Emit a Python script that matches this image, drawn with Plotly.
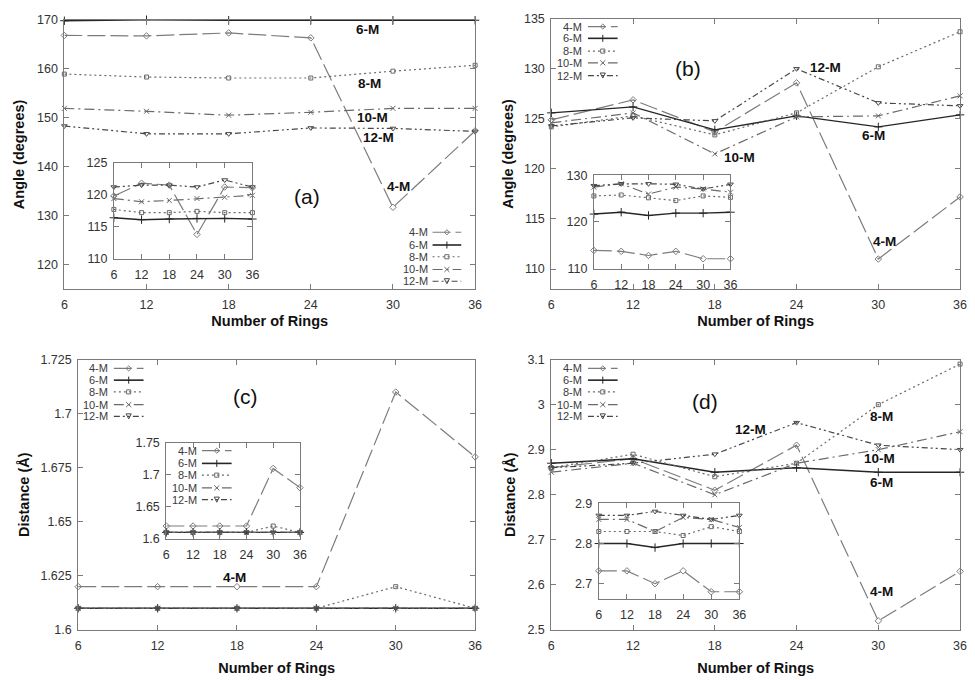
import plotly.graph_objects as go

# ---------------- data ----------------
rings = [6, 12, 18, 24, 30, 36]
series_names = ["4-M", "6-M", "8-M", "10-M", "12-M"]

# (a) angle, main
a_4M = [166.8, 166.7, 167.3, 166.3, 131.7, 147.3]
a_6M = [169.8, 170.0, 169.9, 169.9, 169.9, 169.9]
a_8M = [158.9, 158.3, 158.1, 158.1, 159.5, 160.7]
a_10M = [151.9, 151.3, 150.5, 151.1, 151.9, 151.9]
a_12M = [148.3, 146.7, 146.7, 147.9, 147.8, 147.2]
# (a) inset
ai_4M = [119.8, 121.8, 121.5, 113.8, 121.2, 121.1]
ai_6M = [116.4, 116.1, 116.2, 116.3, 116.3, 116.2]
ai_8M = [117.7, 117.2, 117.2, 117.4, 117.2, 117.2]
ai_10M = [119.4, 118.9, 119.1, 119.4, 119.6, 119.9]
ai_12M = [121.2, 121.5, 121.5, 121.2, 122.3, 121.2]

# (b) angle, main
b_4M = [124.9, 126.9, 123.7, 128.6, 111.0, 117.2]
b_6M = [125.6, 126.2, 123.9, 125.3, 124.2, 125.4]
b_8M = [124.2, 125.3, 123.4, 125.6, 130.2, 133.7]
b_10M = [124.6, 125.6, 121.5, 125.2, 125.3, 127.3]
b_12M = [124.3, 125.1, 124.8, 130.0, 126.6, 126.3]
# (b) inset
bi_4M = [113.9, 113.7, 112.8, 113.7, 112.1, 112.1]
bi_6M = [121.7, 122.1, 121.4, 121.9, 121.9, 122.1]
bi_8M = [125.6, 125.8, 125.2, 124.6, 125.6, 125.3]
bi_10M = [127.5, 128.2, 126.0, 127.5, 127.1, 126.4]
bi_12M = [127.8, 128.2, 128.2, 128.1, 127.1, 128.1]

# (c) distance, main
c_4M = [1.62, 1.62, 1.62, 1.62, 1.71, 1.68]
c_6M = [1.61, 1.61, 1.61, 1.61, 1.61, 1.61]
c_8M = [1.61, 1.61, 1.61, 1.61, 1.62, 1.61]
c_10M = [1.61, 1.61, 1.61, 1.61, 1.61, 1.61]
c_12M = [1.61, 1.61, 1.61, 1.61, 1.61, 1.61]
# (c) inset
ci_4M = [1.62, 1.62, 1.62, 1.62, 1.71, 1.68]
ci_6M = [1.61, 1.61, 1.61, 1.61, 1.61, 1.61]
ci_8M = [1.61, 1.61, 1.61, 1.61, 1.62, 1.61]
ci_10M = [1.61, 1.61, 1.61, 1.61, 1.61, 1.61]
ci_12M = [1.61, 1.61, 1.61, 1.61, 1.61, 1.61]

# (d) distance, main
d_4M = [2.86, 2.88, 2.81, 2.91, 2.52, 2.63]
d_6M = [2.87, 2.88, 2.85, 2.86, 2.85, 2.85]
d_8M = [2.86, 2.89, 2.84, 2.87, 3.00, 3.09]
d_10M = [2.85, 2.87, 2.80, 2.87, 2.90, 2.94]
d_12M = [2.86, 2.87, 2.89, 2.96, 2.91, 2.90]
# (d) inset
di_4M = [2.732, 2.732, 2.70, 2.732, 2.68, 2.68]
di_6M = [2.80, 2.80, 2.79, 2.80, 2.80, 2.80]
di_8M = [2.83, 2.83, 2.83, 2.82, 2.842, 2.83]
di_10M = [2.86, 2.86, 2.83, 2.865, 2.86, 2.84]
di_12M = [2.87, 2.87, 2.88, 2.87, 2.86, 2.87]

# tick labels
x_ticks = [6, 12, 18, 24, 30, 36]
a_yticks = [120, 130, 140, 150, 160, 170]
b_yticks = [110, 115, 120, 125, 130, 135]
c_yticks = [1.6, 1.625, 1.65, 1.675, 1.7, 1.725]
c_yticklabels = ["1.6", "1.625", "1.65", "1.675", "1.7", "1.725"]
d_yticks = [2.5, 2.6, 2.7, 2.8, 2.9, 3.0, 3.1]
d_yticklabels = ["2.5", "2.6", "2.7", "2.8", "2.9", "3", "3.1"]
ai_yticks = [110, 115, 120, 125]
bi_yticks = [110, 120, 130]
ci_yticks = [1.6, 1.65, 1.7, 1.75]
ci_yticklabels = ["1.6", "1.65", "1.7", "1.75"]
di_yticks = [2.7, 2.8, 2.9]

# ---------------- layout helpers ----------------
W, H = 975, 680
FONT = "Liberation Sans, Arial, sans-serif"


def fx(p):
    return p / W


def fy(p):
    return 1 - p / H


STYLE = {
    "4-M": dict(color="#7c7c7c", dash="18px,5px", symbol="diamond-open", size=5),
    "6-M": dict(color="#262626", dash="solid", symbol="cross-thin", size=6),
    "8-M": dict(color="#6a6a6a", dash="2px,3px", symbol="square-open", size=4),
    "10-M": dict(color="#6a6a6a", dash="10px,4px,2px,4px", symbol="x-thin", size=5),
    "12-M": dict(color="#474747", dash="6px,3px,2px,3px,2px,3px", symbol="triangle-down-open", size=5),
}

panels = [
    ("", [a_4M, a_6M, a_8M, a_10M, a_12M], (62, 477, 13, 288), [115, 170], a_yticks, None),
    ("2", [b_4M, b_6M, b_8M, b_10M, b_12M], (554, 967, 12, 288), [108, 135], b_yticks, None),
    ("3", [c_4M, c_6M, c_8M, c_10M, c_12M], (76, 477, 360, 636), [1.6, 1.725], c_yticks, c_yticklabels),
    ("4", [d_4M, d_6M, d_8M, d_10M, d_12M], (554, 967, 360, 636), [2.5, 3.1], d_yticks, d_yticklabels),
    ("5", [ai_4M, ai_6M, ai_8M, ai_10M, ai_12M], (112, 252, 159, 257), [110, 125], ai_yticks, None),
    ("6", [bi_4M, bi_6M, bi_8M, bi_10M, bi_12M], (597, 735, 172, 267), [110, 130], bi_yticks, None),
    ("7", [ci_4M, ci_6M, ci_8M, ci_10M, ci_12M], (165, 300, 445, 543), [1.6, 1.75], ci_yticks, ci_yticklabels),
    ("8", [di_4M, di_6M, di_8M, di_10M, di_12M], (602, 744, 506, 604), [2.663, 2.902], di_yticks, None),
]

fig = go.Figure()
layout = dict(
    width=W, height=H, margin=dict(l=0, r=0, t=0, b=0),
    paper_bgcolor="white", plot_bgcolor="rgba(0,0,0,0)",
    showlegend=False, font=dict(family=FONT, color="#333333"),
)

axis_common = dict(
    showline=True, mirror="ticks", linecolor="#7a7a7a", linewidth=1,
    ticks="inside", ticklen=5, tickcolor="#7a7a7a", showgrid=False,
    zeroline=False, tickfont=dict(family=FONT, size=12.5, color="#333333"),
)

for suf, vals, box, yr, yt, ytl in panels:
    x0, x1, y0, y1 = box
    xa = dict(axis_common, domain=[fx(x0), fx(x1)], range=[6, 36],
              tickvals=x_ticks, anchor="y" + suf, ticklabelstandoff=4)
    ya = dict(axis_common, domain=[fy(y1), fy(y0)], range=yr,
              tickvals=yt, anchor="x" + suf, ticklabelstandoff=3)
    if ytl is not None:
        ya["ticktext"] = ytl
    layout["xaxis" + suf] = xa
    layout["yaxis" + suf] = ya
    for name, v in zip(series_names, vals):
        s = STYLE[name]
        fig.add_trace(go.Scatter(
            x=rings, y=v, name=name, mode="lines+markers",
            xaxis="x" + suf, yaxis="y" + suf, cliponaxis=False,
            line=dict(color=s["color"], dash=s["dash"], width=1.2 if name != "6-M" else 1.4),
            marker=dict(symbol=s["symbol"], size=s["size"], color=s["color"],
                        line=dict(color=s["color"], width=1)),
        ))

# axis titles
title_font = dict(family=FONT, size=14.5, color="#111111", weight="bold")
layout["xaxis"]["title"] = dict(text="Number of Rings", font=title_font, standoff=4)
layout["xaxis2"]["title"] = dict(text="Number of Rings", font=title_font, standoff=4)
layout["xaxis3"]["title"] = dict(text="Number of Rings", font=title_font, standoff=10)
layout["xaxis4"]["title"] = dict(text="Number of Rings", font=title_font, standoff=10)
layout["yaxis"]["title"] = dict(text="Angle (degrees)", font=title_font, standoff=8)
layout["yaxis2"]["title"] = dict(text="Angle (degrees)", font=title_font, standoff=6)
layout["yaxis3"]["title"] = dict(text="Distance (Å)", font=title_font, standoff=7)
layout["yaxis4"]["title"] = dict(text="Distance (Å)", font=title_font, standoff=8)

annotations = []
shapes = []

# in-plot labels (pixel positions)
lab_font = dict(family=FONT, size=13.5, color="#111111", weight="bold")
labels = [
    ("6-M", 368, 23), ("8-M", 370, 78), ("10-M", 373, 113), ("12-M", 379, 133), ("4-M", 400, 183),
    ("12-M", 831, 62), ("6-M", 880, 131), ("10-M", 744, 154), ("4-M", 891, 239),
    ("4-M", 234, 582),
    ("12-M", 755, 431), ("8-M", 888, 418), ("10-M", 886, 461), ("6-M", 888, 486), ("4-M", 888, 597),
]
for t, px, py in labels:
    annotations.append(dict(text=t, x=fx(px), y=fy(py), xref="paper", yref="paper",
                            showarrow=False, font=lab_font, xanchor="center", yanchor="middle",
                            borderpad=0))

panel_font = dict(family=FONT, size=21, color="#111111")
for t, px, py in [("(a)", 307, 193), ("(b)", 692, 63), ("(c)", 245, 398), ("(d)", 709, 403)]:
    annotations.append(dict(text=t, x=fx(px), y=fy(py), xref="paper", yref="paper",
                            showarrow=False, font=panel_font, xanchor="center", yanchor="middle"))

# gnuplot-style keys: text right-aligned, then line sample
keys = [
    ([230, 243, 255, 268, 280], 430, 434, 463),
    ([20, 32, 45, 57, 70], 586, 591, 621),
    ([369, 381, 393, 406, 418], 107, 112, 142),
    ([453, 466, 478, 491, 503], 197, 201, 231),
    ([369, 381, 393, 406, 418], 586, 591, 621),
]
key_font = dict(family=FONT, size=11, color="#3a3a3a")


def marker_path(sym, cx, cy, r=2.6):
    if sym == "4-M":
        pts = [(cx - r, cy), (cx, cy - r), (cx + r, cy), (cx, cy + r)]
        return "M" + " L".join(f"{fx(a):.5f},{fy(b):.5f}" for a, b in pts) + " Z"
    if sym == "6-M":
        return f"M{fx(cx):.5f},{fy(cy - r - 1):.5f} L{fx(cx):.5f},{fy(cy + r + 1):.5f}"
    if sym == "8-M":
        pts = [(cx - r + 0.5, cy - r + 0.5), (cx + r - 0.5, cy - r + 0.5),
               (cx + r - 0.5, cy + r - 0.5), (cx - r + 0.5, cy + r - 0.5)]
        return "M" + " L".join(f"{fx(a):.5f},{fy(b):.5f}" for a, b in pts) + " Z"
    if sym == "10-M":
        return (f"M{fx(cx - r):.5f},{fy(cy - r):.5f} L{fx(cx + r):.5f},{fy(cy + r):.5f} "
                f"M{fx(cx - r):.5f},{fy(cy + r):.5f} L{fx(cx + r):.5f},{fy(cy - r):.5f}")
    pts = [(cx - r, cy - r), (cx + r, cy - r), (cx, cy + r)]
    return "M" + " L".join(f"{fx(a):.5f},{fy(b):.5f}" for a, b in pts) + " Z"


for ys, tr, l0, l1 in keys:
    for name, py in zip(series_names, ys):
        s = STYLE[name]
        annotations.append(dict(text=name, x=fx(tr), y=fy(py), xref="paper", yref="paper",
                                showarrow=False, font=key_font, xanchor="right", yanchor="middle",
                                borderpad=0))
        shapes.append(dict(type="line", xref="paper", yref="paper",
                           x0=fx(l0), x1=fx(l1), y0=fy(py), y1=fy(py),
                           line=dict(color=s["color"], dash=s["dash"],
                                     width=1.2 if name != "6-M" else 1.6)))
        shapes.append(dict(type="path", xref="paper", yref="paper",
                           path=marker_path(name, (l0 + l1) / 2, py),
                           line=dict(color=s["color"], width=1), fillcolor="rgba(0,0,0,0)"))

layout["annotations"] = annotations
layout["shapes"] = shapes
fig.update_layout(**layout)
fig.write_html("out.html")
